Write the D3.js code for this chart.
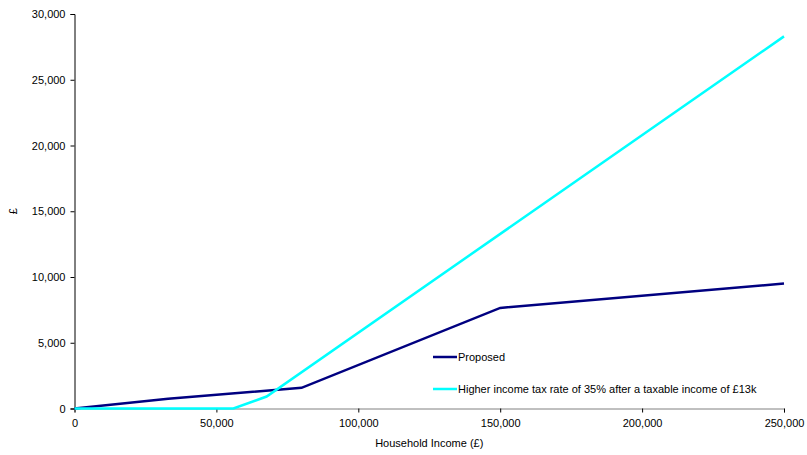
<!DOCTYPE html>
<html lang="en">
<head>
<meta charset="utf-8">
<script src="https://cdn.jsdelivr.net/npm/d3@7"></script>
<style>
  html, body { margin: 0; padding: 0; background: #fff; }
  text { font-family: "Liberation Sans", Arial, sans-serif; fill: #000; }
</style>
</head>
<body>
<script>
const w = 807, h = 455;
const margin = {top: 14, right: 23, bottom: 47, left: 74};

// data
const proposedIncome = [0, 33000, 80000, 150000, 250000];
const proposedValue  = [0, 750, 1570, 7650, 9500];
const higherIncome   = [0, 56000, 67700, 250000];
const higherValue    = [0, 0, 910, 28300];

const seriesNames = ["Proposed", "Higher income tax rate of 35% after a taxable income of £13k"];
const seriesColors = ["#000080", "#00ffff"];
const xTicks = [0, 50000, 100000, 150000, 200000, 250000];
const yTicks = [0, 5000, 10000, 15000, 20000, 25000, 30000];

const svg = d3.select("body").append("svg")
  .attr("width", w).attr("height", h);

const x = d3.scaleLinear([0, 250000], [margin.left + 0.5, w - margin.right]);
const y = d3.scaleLinear([0, 30000], [h - margin.bottom + 0.5, margin.top]);
const fmt = d3.format(",");

// x axis
const xAxis = svg.append("g")
  .attr("transform", `translate(0,${y(0)})`)
  .call(d3.axisBottom(x).tickValues(xTicks).tickFormat(fmt).tickSize(4).tickPadding(7));
xAxis.select(".domain").attr("stroke", "#808080");
xAxis.selectAll(".tick line").attr("stroke", "#000");
xAxis.selectAll("text").attr("font-size", 11).attr("fill", "#222");

// y axis
const yAxis = svg.append("g")
  .attr("transform", `translate(${x(0)},0)`)
  .call(d3.axisLeft(y).tickValues(yTicks).tickFormat(fmt).tickSize(4).tickPadding(5));
yAxis.select(".domain").attr("stroke", "#000");
yAxis.selectAll("text").attr("font-size", 11).attr("fill", "#222");

// axis titles
svg.append("text")
  .attr("x", (x(0) + x(250000)) / 2).attr("y", 447)
  .attr("text-anchor", "middle").attr("font-size", 11)
  .text("Household Income (£)");
svg.append("text")
  .attr("transform", `translate(17,${(y(0) + y(30000)) / 2}) rotate(-90)`)
  .attr("text-anchor", "middle").attr("font-size", 11)
  .text("£");

const line = d3.line().x(d => x(d[0])).y(d => y(d[1]));

const series = [
  d3.zip(proposedIncome, proposedValue),
  d3.zip(higherIncome, higherValue)
];

svg.append("path").datum(series[0])
  .attr("fill", "none").attr("stroke", seriesColors[0]).attr("stroke-width", 2.5)
  .attr("d", line);
svg.append("path").datum(series[1])
  .attr("fill", "none").attr("stroke", seriesColors[1]).attr("stroke-width", 2.5)
  .attr("d", line);

// legend
const legend = svg.append("g").attr("transform", "translate(433,357)");
seriesNames.forEach((name, i) => {
  const g = legend.append("g").attr("transform", `translate(0,${i * 32})`);
  g.append("line").attr("x1", 0).attr("x2", 24).attr("y1", 0).attr("y2", 0)
    .attr("stroke", seriesColors[i]).attr("stroke-width", 2.5);
  g.append("text").attr("x", 25).attr("y", 4).attr("font-size", 11).text(name);
});
</script>
</body>
</html>
